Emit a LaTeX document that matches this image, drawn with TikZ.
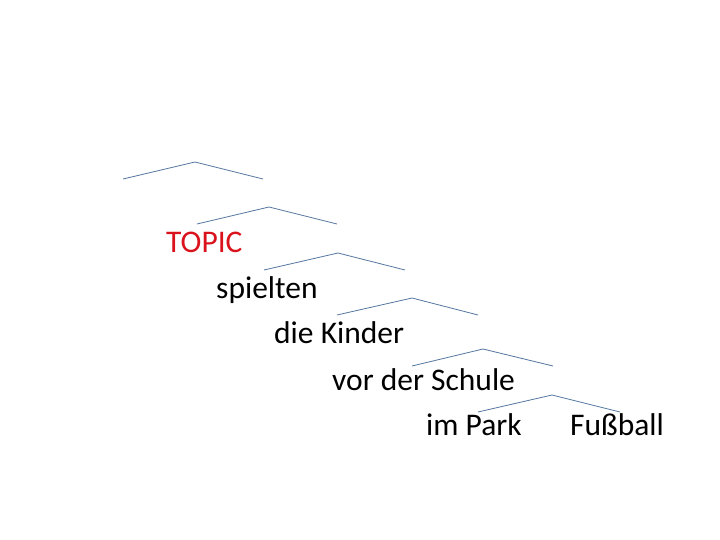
\documentclass[tikz,border=0pt]{standalone}
\usepackage{fontspec}
\setmainfont{Carlito}
\definecolor{roofblue}{RGB}{84,118,158}
\definecolor{topicred}{RGB}{218,18,28}
\begin{document}
\begin{tikzpicture}[x=1pt,y=-1pt,
    branch/.style={color=roofblue,line width=0.8pt},
    word/.style={anchor=base west,inner sep=0pt,font=\fontsize{31.5}{36}\selectfont}]
      \useasboundingbox (0,0) rectangle (720,540);
      % roofs: left end, peak, right end
      \foreach \n/\lx/\px/\py/\rx in {1/123/195/162/263,2/197/269/207/337,
          3/264/338/253/405,4/337/412/298/478,5/412/483/349/553,6/478/552/395/620}{
        \coordinate (l\n) at (\lx,\py+17);
        \coordinate (p\n) at (\px,\py);
        \coordinate (r\n) at (\rx,\py+17);
        \draw[branch] (l\n) -- (p\n) -- (r\n);
      }
      \node[word,color=topicred] (topic) at (166,252) {TOPIC};
      \node[word] (verb) at (216,298) {spielten};
      \node[word] (subj) at (274,343) {die Kinder};
      \node[word] (temp) at (332,390) {vor der Schule};
      \node[word] (loc) at (426,435) {im Park};
      \node[word] (obj) at (570,435) {Fußball};
    \end{tikzpicture}
\end{document}
